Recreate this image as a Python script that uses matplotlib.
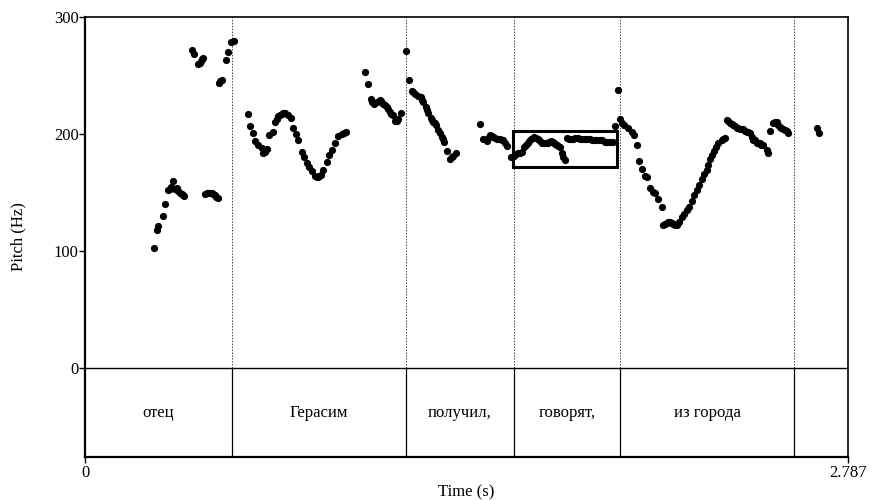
import matplotlib
matplotlib.use("Agg")
import matplotlib.pyplot as plt
from matplotlib.patches import Rectangle

plt.rcParams['font.family'] = ['Liberation Serif', 'DejaVu Serif']

# ---- data ----
t_end = 2.787
boundaries = [0.537, 1.171, 1.568, 1.953, 2.591]
words = ["отец", "Герасим", "получил,", "говорят,", "из города", ""]

times = [
    # отец
    0.253, 0.262, 0.268, 0.284, 0.292, 0.304, 0.309, 0.313, 0.322, 0.330, 0.335, 0.341, 0.347, 0.353, 0.358, 0.363,
    0.390, 0.399, 0.414, 0.419, 0.424, 0.428, 0.432,
    0.438, 0.444, 0.450, 0.457, 0.463, 0.469, 0.475, 0.480, 0.485,
    0.489, 0.494, 0.499, 0.514, 0.523, 0.532, 0.544,
    # Герасим
    0.596, 0.603, 0.612, 0.621, 0.633, 0.645, 0.651, 0.657, 0.664, 0.673, 0.686, 0.694, 0.700, 0.706, 0.712,
    0.718, 0.724, 0.730, 0.743, 0.751, 0.759, 0.771, 0.779, 0.791, 0.800, 0.810, 0.818, 0.828, 0.840, 0.846,
    0.852, 0.856, 0.861, 0.870, 0.883, 0.892, 0.901, 0.913, 0.925, 0.938, 0.945, 0.953,
    1.023, 1.035, 1.043, 1.049, 1.056, 1.065, 1.077, 1.083, 1.090, 1.096, 1.102, 1.108, 1.114, 1.119, 1.124,
    1.132, 1.138, 1.144, 1.154,
    # получил,
    1.172, 1.183, 1.193, 1.199, 1.205, 1.217, 1.226, 1.231, 1.236, 1.245, 1.250, 1.254, 1.263, 1.268, 1.272,
    1.277, 1.282, 1.290, 1.297, 1.303, 1.307, 1.312, 1.323, 1.333, 1.339, 1.345, 1.355,
    1.443, 1.455, 1.467, 1.473, 1.479, 1.485, 1.491, 1.497, 1.504, 1.510, 1.516, 1.522, 1.528, 1.534, 1.540,
    1.556, 1.568,
    # говорят,
    1.574, 1.583, 1.589, 1.595, 1.604, 1.611, 1.617, 1.623, 1.629, 1.635, 1.641, 1.647, 1.653, 1.659, 1.665,
    1.671, 1.678, 1.684, 1.690, 1.696, 1.702, 1.708, 1.714, 1.718, 1.723, 1.729, 1.735, 1.741, 1.745, 1.752,
    1.759, 1.767, 1.775, 1.783, 1.790, 1.799, 1.808, 1.817, 1.826, 1.835, 1.844, 1.853, 1.863, 1.872, 1.881,
    1.890, 1.899, 1.908, 1.917, 1.930, 1.936, 1.946,
    # из города
    1.954, 1.962, 1.969, 1.984, 1.997, 2.005, 2.015, 2.024, 2.033, 2.045, 2.054, 2.064, 2.073, 2.082, 2.094,
    2.106, 2.112, 2.118, 2.125, 2.131, 2.137, 2.143, 2.149, 2.155, 2.161, 2.171,
    2.179, 2.188, 2.198, 2.207, 2.216, 2.224, 2.234, 2.244, 2.252, 2.261, 2.271, 2.276, 2.283, 2.289, 2.297,
    2.305, 2.313, 2.325, 2.331, 2.337,
    2.344, 2.350, 2.356, 2.362, 2.368, 2.374, 2.380, 2.386, 2.392, 2.398, 2.404, 2.410, 2.417, 2.423, 2.429,
    2.438, 2.441, 2.446, 2.453, 2.459, 2.465, 2.471, 2.477, 2.490, 2.496,
    2.502, 2.514, 2.520, 2.526, 2.532, 2.538, 2.544, 2.550, 2.556, 2.563, 2.569,
    2.672, 2.682,
]

pitch = [
    # отец
    103, 118, 121, 130, 140, 152, 153, 155, 160, 153, 154, 151, 150, 148.5, 148, 147,
    272, 268, 260, 261, 262.5, 264, 265,
    149, 149.5, 150, 150, 149.5, 148.5, 147.5, 146, 145,
    244, 245, 246.5, 263, 270, 279, 279.5,
    # Герасим
    217, 207, 200.5, 194, 190.5, 188, 183.5, 185, 187, 199, 202, 210.5, 213, 215, 216,
    217, 217.8, 218, 216, 213.5, 205, 200, 195, 185, 180.5, 175, 172, 168, 164, 163,
    163.5, 164, 165, 169, 176, 182, 186, 192, 198, 200, 200.5, 201.5,
    253, 243, 230, 227, 225.5, 227, 229.5, 228, 226, 224.5, 223, 221, 219, 217.5, 216,
    211, 211, 212.5, 218,
    # получил,
    271, 246, 237, 235.5, 234, 232.5, 231.5, 229, 227, 223, 220.5, 218, 214, 212, 210.5,
    209, 207.5, 203.5, 200.5, 197.5, 195.5, 193.5, 185.5, 178.5, 180, 181, 184,
    208.5, 196, 194, 197, 199, 198.5, 197.5, 197, 196, 195.5, 195.5, 195, 194.5, 192, 189.5,
    180.5, 181,
    # говорят,
    183, 183.5, 184, 185, 189, 190.5, 192, 194, 195.5, 196.5, 197.5, 197, 195.5, 194.5, 193.5,
    192.5, 192, 192, 192.5, 193.5, 194, 193.5, 192.5, 191.5, 190.5, 189.5, 188.5, 184, 180, 178,
    196.5, 196, 195.5, 196, 196.5, 196.5, 196, 196, 195.5, 195.5, 195.5, 195, 194.5, 194.5, 195,
    194.5, 193.5, 193.5, 193.5, 193.5, 207, 237.5,
    # из города
    212.5, 209, 207.5, 205, 202, 199, 190.5, 177, 170, 164, 163, 153.5, 150.5, 149.5, 144.5,
    137.5, 122, 123, 124, 124.5, 125, 124, 123, 122.5, 122, 125,
    129.5, 132, 135, 138, 143, 148, 152, 156.5, 161.5, 166, 169, 173.5, 178.5, 182, 185.5,
    189, 192, 194.5, 195.5, 196.5,
    212, 211, 209.5, 208.5, 207.5, 206.5, 205.5, 205, 204, 204, 204, 203, 202, 201.5, 200.5,
    197.5, 194.5, 195, 192.5, 192.5, 192, 191, 190.5, 186.5, 183.5,
    203, 209.5, 210.5, 210.5, 208, 206, 205, 204, 203.5, 203, 201,
    205.5, 200.5,
]

box_t = (1.564, 1.945)
box_f = (171.5, 202.5)

tier_bottom = -76
y_ticks = [0, 100, 200, 300]

# ---- figure ----
fig = plt.figure(figsize=(8.72, 5.0), dpi=100)
ax = fig.add_axes([85 / 872, 43 / 500, 763 / 872, 440 / 500])
ax.set_xlim(0, t_end)
ax.set_ylim(tier_bottom, 300)

# boundaries
for b in boundaries:
    ax.plot([b, b], [0, 300], color='#444444', lw=0.7, ls=(0, (1.5, 1.5)), zorder=1)
    ax.plot([b, b], [tier_bottom, 0], color='black', lw=0.9, zorder=1)
ax.axhline(0, color='black', lw=1.0, zorder=1)

# word labels
edges = [0] + boundaries + [t_end]
for i, w in enumerate(words):
    ax.text((edges[i] + edges[i + 1]) / 2, tier_bottom / 2, w, ha='center', va='center', fontsize=12)

# pitch points
ax.plot(times, pitch, 'o', color='black', ms=5.2, mew=0, zorder=3)

# box
ax.add_patch(Rectangle((box_t[0], box_f[0]), box_t[1] - box_t[0], box_f[1] - box_f[0],
                       fill=False, ec='black', lw=2.2, zorder=4))

ax.set_yticks(y_ticks)
ax.set_yticklabels([str(v) for v in y_ticks])
ax.set_xticks([0, t_end])
ax.set_xticklabels(["0", "2.787"])
ax.tick_params(axis='y', length=4, width=1.0, pad=0.5, labelsize=12)
ax.tick_params(axis='x', length=4, width=1.0, pad=2, labelsize=12)

for s in ['left', 'bottom']:
    ax.spines[s].set_linewidth(1.6)
for s in ['top', 'right']:
    ax.spines[s].set_linewidth(1.2)

ax.set_xlabel("Time (s)", fontsize=12, labelpad=2)
ax.set_ylabel("Pitch (Hz)", fontsize=12)
ax.yaxis.set_label_coords(-0.077, 0.5)

fig.savefig("out.png", dpi=100)
